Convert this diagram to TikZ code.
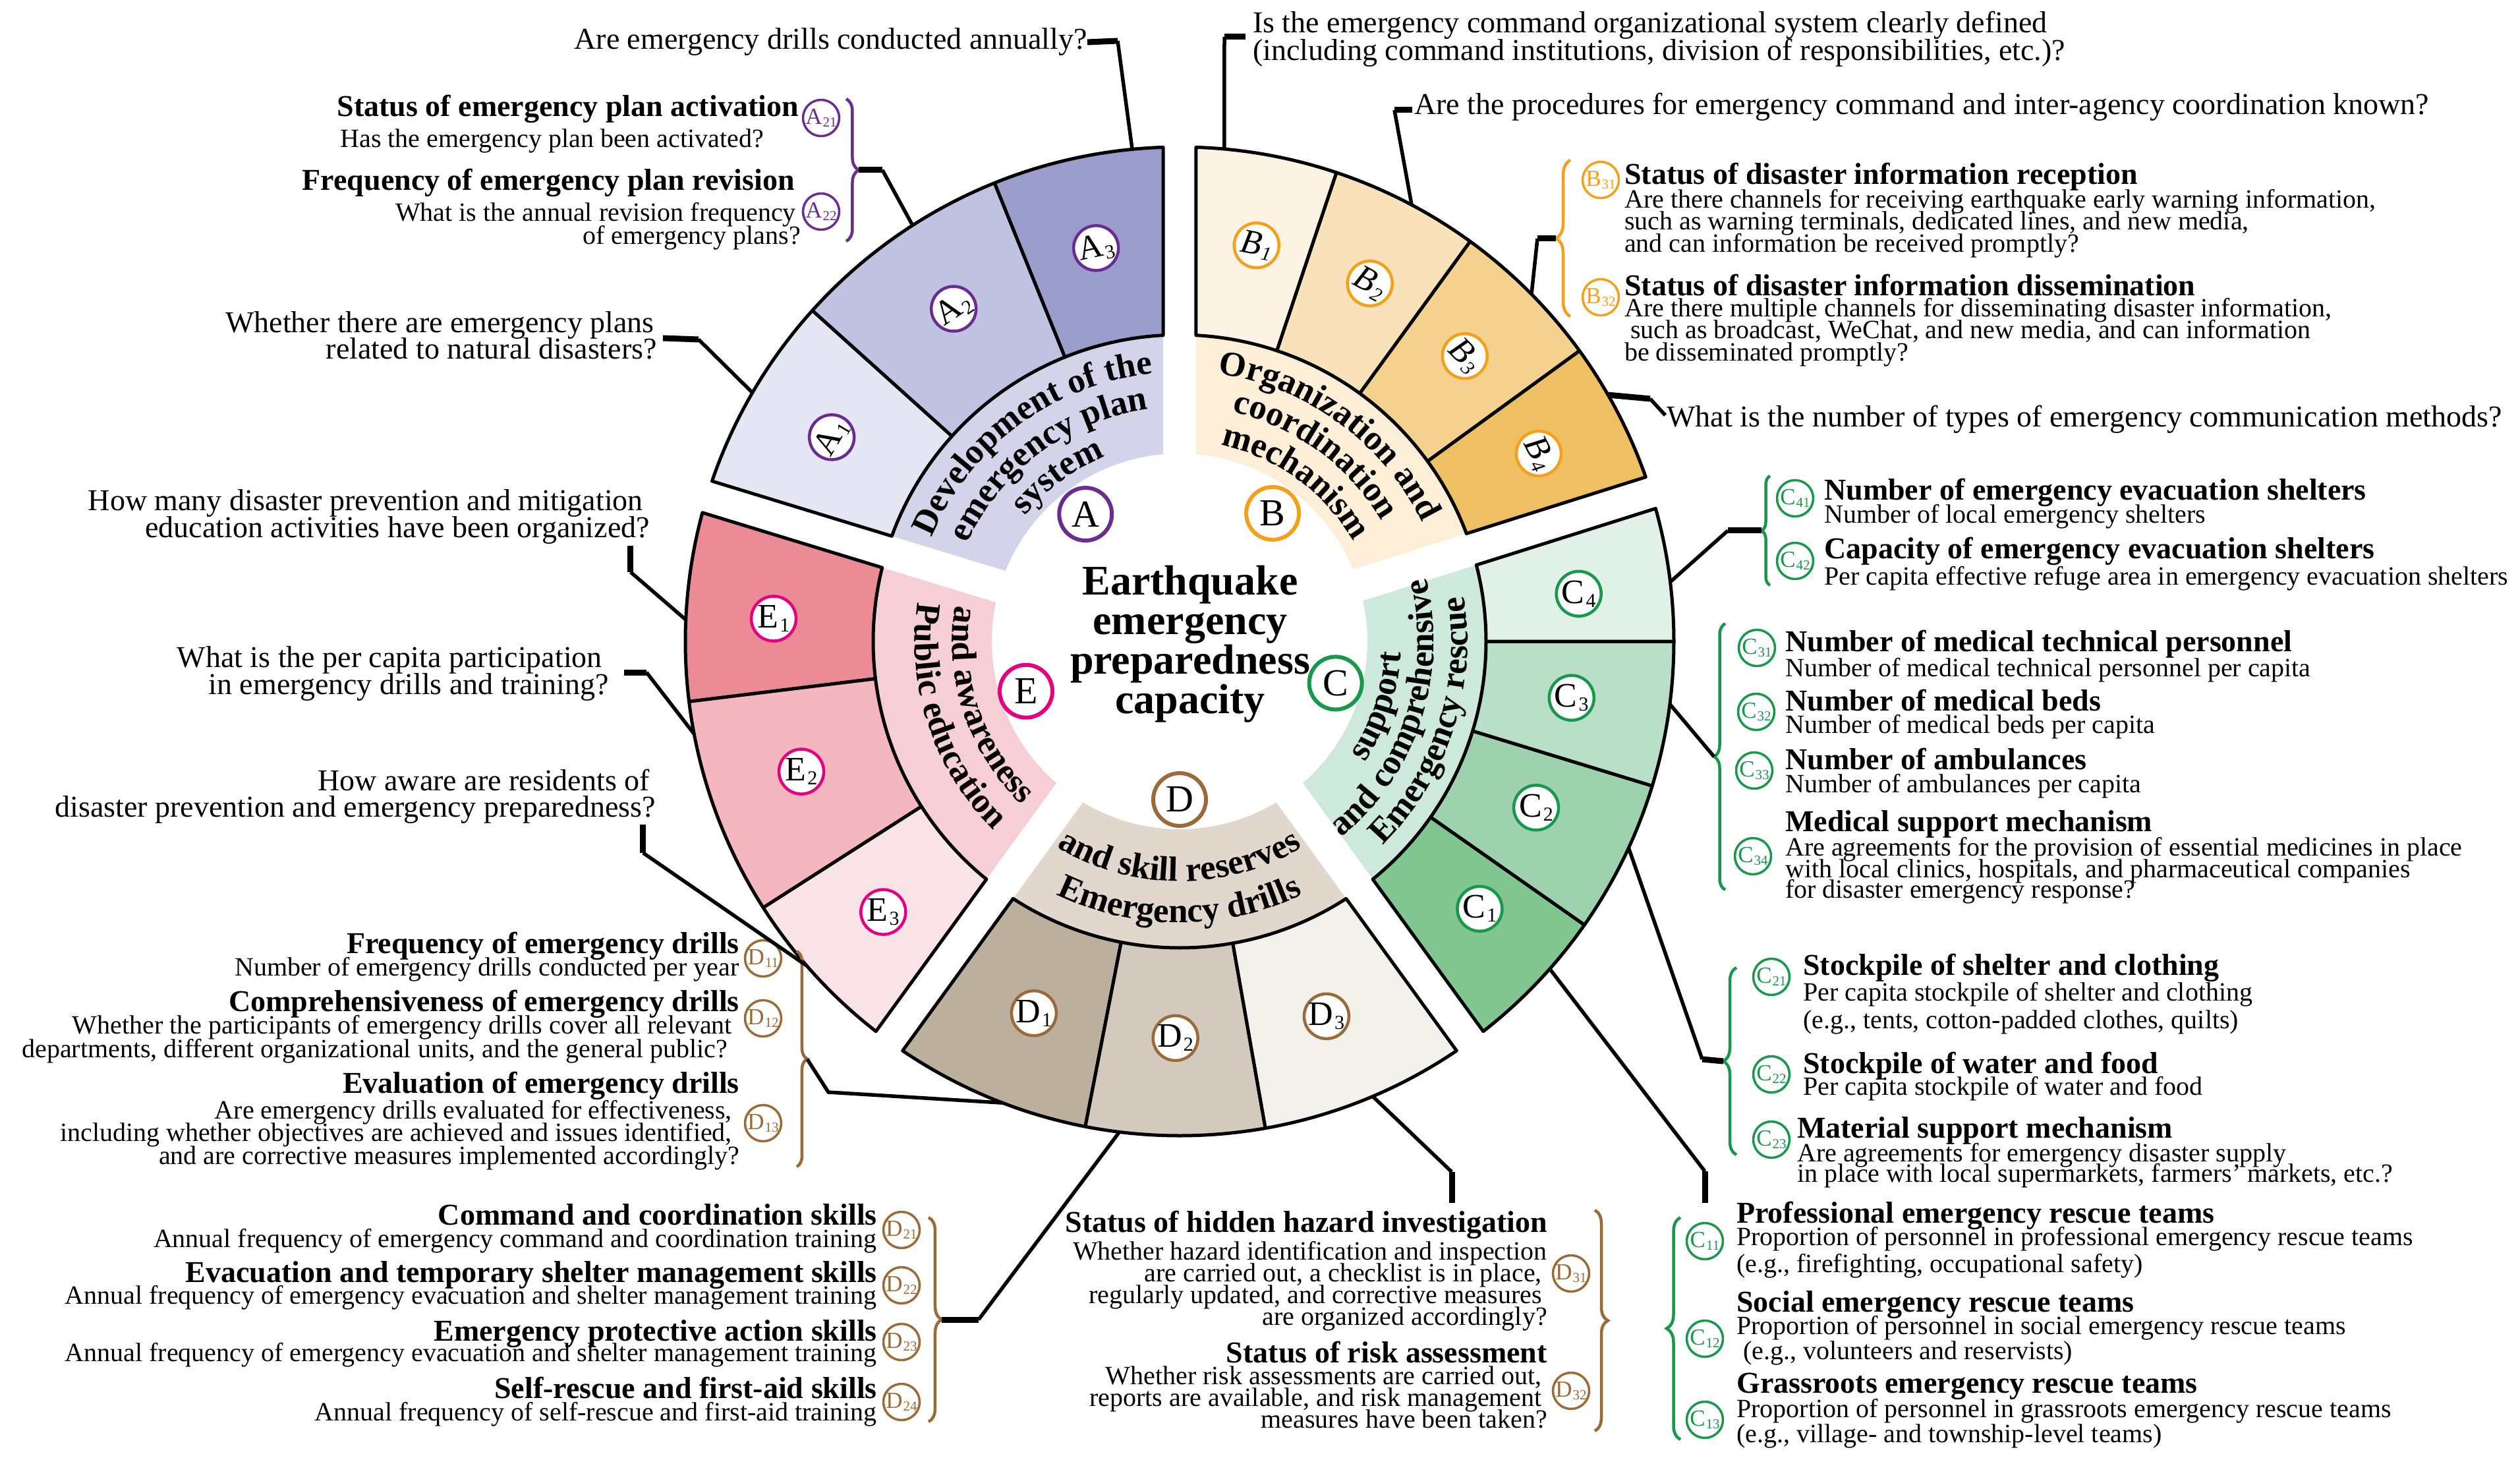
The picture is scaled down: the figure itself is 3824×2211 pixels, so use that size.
\documentclass[tikz,border=0pt]{standalone}
\usepackage{fontspec}
\setmainfont{Liberation Serif}
\usetikzlibrary{decorations.text,decorations.pathreplacing}
\definecolor{bA}{HTML}{D3D4EA}\definecolor{a1}{HTML}{E5E6F4}\definecolor{a2}{HTML}{C0C2E2}\definecolor{a3}{HTML}{9A9DCC}\definecolor{cA}{HTML}{6A2C91}
\definecolor{bB}{HTML}{FDEFD7}\definecolor{b1}{HTML}{FDF3E4}\definecolor{b2}{HTML}{F9E2B9}\definecolor{b3}{HTML}{F5D18F}\definecolor{b4}{HTML}{EFBF63}\definecolor{cB}{HTML}{F4A01A}
\definecolor{bC}{HTML}{CDE9DB}\definecolor{c1}{HTML}{81C690}\definecolor{c2}{HTML}{9ED1AD}\definecolor{c3}{HTML}{BADFC9}\definecolor{c4}{HTML}{E2F1E7}\definecolor{cC}{HTML}{18984A}
\definecolor{bD}{HTML}{E1D7CC}\definecolor{d1}{HTML}{BCAF9D}\definecolor{d2}{HTML}{D3C9BC}\definecolor{d3}{HTML}{F3F1EB}\definecolor{cD}{HTML}{9A6A38}
\definecolor{bE}{HTML}{F5CFD5}\definecolor{e1}{HTML}{EB8B96}\definecolor{e2}{HTML}{F4B6BF}\definecolor{e3}{HTML}{FAE3E6}\definecolor{cE}{HTML}{E4007F}
\newcommand\bandfont{\fontsize{53}{53}\selectfont\bfseries}
\newcommand\sbs[2]{#1\kern2pt\raisebox{-6pt}{\fontsize{30}{30}\selectfont #2}}
\newcommand\gsb[2]{#1\kern1pt\raisebox{-4pt}{\fontsize{21}{21}\selectfont #2}}
\newcounter{tl}
\newcommand\lineT[4]{\stepcounter{tl}\node[#1] (t\arabic{tl}) at (#2,#3) {#4};}
\newcommand\band[5]{\fill[#1] (#2:285) -- (#3:465) arc[start angle=#3, end angle=#5, radius=465] -- (#4:285) arc[start angle=#4, end angle=#2, radius=285] -- cycle;}
\newcommand\seg[5]{\filldraw[fill=#1, draw=black, line width=5pt, line join=round] (#2:465) -- (#3:750) arc[start angle=#3, end angle=#5, radius=750] -- (#4:465) arc[start angle=#4, end angle=#2, radius=465] -- cycle;}
\newcommand\arctext[5]{\path[decorate, decoration={text along path, text align=center, text={|\bandfont|#5}}] (#1:#3) arc[start angle=#1, end angle=#2, radius=#3];}
\tikzset{
 qe/.style={anchor=base east, inner sep=0pt, font=\fontsize{46}{50}\selectfont},
 qw/.style={anchor=base west, inner sep=0pt, font=\fontsize{46}{50}\selectfont},
 be/.style={anchor=base east, inner sep=0pt, font=\fontsize{46}{50}\selectfont\bfseries},
 bw/.style={anchor=base west, inner sep=0pt, font=\fontsize{46}{50}\selectfont\bfseries},
 de/.style={anchor=base east, inner sep=0pt, font=\fontsize{40}{44}\selectfont},
 dw/.style={anchor=base west, inner sep=0pt, font=\fontsize{40}{44}\selectfont},
 leader/.style={draw=black, line width=5.5pt, line join=miter},
 stub/.style={draw=black, line width=9pt},
 gc/.style={circle, line width=3.5pt, fill=white, minimum size=55pt, inner sep=0pt, font=\fontsize{35}{35}\selectfont},
 sc/.style={circle, line width=4.5pt, fill=white, minimum size=68pt, inner sep=0pt, font=\fontsize{52}{52}\selectfont},
 mc/.style={circle, line width=6pt, fill=white, minimum size=80pt, inner sep=0pt, font=\fontsize{58}{58}\selectfont},
 bracestyle/.style={decorate, line width=4.5pt},
}
\begin{document}
\begin{tikzpicture}[x=1pt,y=1pt]
\useasboundingbox (-1790,-1238) rectangle (2034,973);
\fill[white] (-1790,-1238) rectangle (2034,973);
% ---------- wheel ----------
\band{bA}{95.03}{93.08}{157.97}{159.92}
\seg{a3}{93.08}{91.91}{112}{112}
\seg{a2}{112}{112}{138}{138}
\seg{a1}{138}{138}{159.92}{161.09}
\band{bB}{22.53}{20.58}{84.97}{86.92}
\seg{b4}{20.58}{19.41}{36}{36}
\seg{b3}{36}{36}{54}{54}
\seg{b2}{54}{54}{71.5}{71.5}
\seg{b1}{71.5}{71.5}{86.92}{88.09}
\band{bC}{-48.97}{-50.92}{12.47}{14.42}
\seg{c1}{-50.92}{-52.09}{-35}{-35}
\seg{c2}{-35}{-35}{-17}{-17}
\seg{c3}{-17}{-17}{0}{0}
\seg{c4}{0}{0}{14.42}{15.59}
\band{bD}{-120.97}{-122.92}{-59.03}{-57.08}
\seg{d1}{-122.92}{-124.09}{-101}{-101}
\seg{d2}{-101}{-101}{-80}{-80}
\seg{d3}{-80}{-80}{-57.08}{-55.91}
\band{bE}{168.03}{166.08}{228.97}{230.92}
\seg{e1}{166.08}{164.91}{187}{187}
\seg{e2}{187}{187}{212.6}{212.6}
\seg{e3}{212.6}{212.6}{230.92}{232.09}
% band texts
\arctext{176.5}{76.5}{408}{}{Development of the}
\arctext{176.5}{76.5}{355}{}{emergency plan}
\arctext{176.5}{76.5}{302}{}{system}
\arctext{104}{4}{410}{}{Organization and}
\arctext{104}{4}{357}{}{coordination}
\arctext{104}{4}{304}{}{mechanism}
\arctext{-68}{32}{336}{}{support}
\arctext{-68}{32}{386}{}{and comprehensive}
\arctext{-68}{32}{437}{}{Emergency rescue}
\arctext{-140}{-40}{364}{}{and skill reserves}
\arctext{-140}{-40}{427}{}{Emergency drills}
\arctext{148.5}{248.5}{345}{}{and awareness}
\arctext{148.5}{248.5}{402}{}{Public education}
% centre
\node[font=\fontsize{64}{60}\selectfont\bfseries, align=center] (ctr) at (16,-4) {Earthquake\\emergency\\preparedness\\capacity};
\node[mc, draw=cA] (LA) at (126.5:240) {A};
\node[mc, draw=cB] (LB) at (54:240) {B};
\node[mc, draw=cC] (LC) at (-15:245) {C};
\node[mc, draw=cD] (LD) at (-90:240) {D};
\node[mc, draw=cE] (LE) at (198:245) {E};
% sub labels
\node[sc, draw=cA, rotate=59.6] (A1) at (149.6:612) {\sbs{A}{1}};
\node[sc, draw=cA, rotate=34.2] (A2) at (124.2:610) {\sbs{A}{2}};
\node[sc, draw=cA, rotate=12] (A3) at (102:610) {\sbs{A}{3}};
\node[sc, draw=cB, rotate=-11, font=\fontsize{52}{52}\selectfont\itshape] (B1) at (79:612) {\sbs{B}{1}};
\node[sc, draw=cB, rotate=-28, font=\fontsize{52}{52}\selectfont\itshape] (B2) at (62:615) {\sbs{B}{2}};
\node[sc, draw=cB, rotate=-45, font=\fontsize{52}{52}\selectfont\itshape] (B3) at (45:612) {\sbs{B}{3}};
\node[sc, draw=cB, rotate=-62.4, font=\fontsize{52}{52}\selectfont\itshape] (B4) at (27.6:615) {\sbs{B}{4}};
\node[sc, draw=cC] (C4) at (6.8:610) {\sbs{C}{4}};
\node[sc, draw=cC] (C3) at (-8.2:601) {\sbs{C}{3}};
\node[sc, draw=cC] (C2) at (-25:597) {\sbs{C}{2}};
\node[sc, draw=cC] (C1) at (-41.7:610) {\sbs{C}{1}};
\node[sc, draw=cD] (D1) at (-111.4:606) {\sbs{D}{1}};
\node[sc, draw=cD] (D2) at (-90.6:602) {\sbs{D}{2}};
\node[sc, draw=cD] (D3) at (-68.6:611) {\sbs{D}{3}};
\node[sc, draw=cE] (E1) at (176.8:617) {\sbs{E}{1}};
\node[sc, draw=cE] (E2) at (199:607) {\sbs{E}{2}};
\node[sc, draw=cE] (E3) at (222.4:609) {\sbs{E}{3}};
% arc anchor points
\coordinate (pA3) at (95.5:750); \coordinate (pA2) at (122.7:750); \coordinate (pA1) at (149.8:750);
\coordinate (pB1) at (84.8:750); \coordinate (pB2) at (62:750); \coordinate (pB3) at (44.6:750); \coordinate (pB4) at (29.9:750);
\coordinate (pC4) at (6.9:750); \coordinate (pC3) at (-7.3:750); \coordinate (pC2) at (-24.7:750); \coordinate (pC1) at (-41.5:750);
\coordinate (pD3) at (-67:750); \coordinate (pD2) at (-97:750); \coordinate (pD1) at (-111:750);
\coordinate (pE1) at (177.5:750); \coordinate (pE2) at (190.8:750); \coordinate (pE3) at (221:750);
% braces
\draw[bracestyle, draw=cA, decoration={brace, amplitude=19pt}] (-506,823) -- (-506,607);
\draw[bracestyle, draw=cB, decoration={brace, amplitude=22pt}] (593,493) -- (593,730);
\draw[bracestyle, draw=cC, decoration={brace, amplitude=13pt}] (896,85) -- (896,251);
\draw[bracestyle, draw=cC, decoration={brace, amplitude=17pt}] (828,-377) -- (828,27);
\draw[bracestyle, draw=cC, decoration={brace, amplitude=20pt}] (845,-779) -- (845,-495);
\draw[bracestyle, draw=cC, decoration={brace, amplitude=21pt}] (760,-1211) -- (760,-874);
\draw[bracestyle, draw=cD, decoration={brace, amplitude=16pt}] (-581,-470) -- (-581,-797);
\draw[bracestyle, draw=cD, decoration={brace, amplitude=20pt}] (-381,-874) -- (-381,-1184);
\draw[bracestyle, draw=cD, decoration={brace, amplitude=20pt}] (630,-863) -- (630,-1198);
% ---------- texts in image coordinates ----------
\begin{scope}[shift={(-1790,973)}, yscale=-1]
\coordinate (tipA2) at (1303,258); \coordinate (tipB3) at (2361,362); \coordinate (tipC4) at (2673,805);
\coordinate (tipC3) at (2601,1148); \coordinate (tipC2) at (2615,1610); \coordinate (tipD1) at (1225,1607);
\coordinate (tipD2) at (1429,2002);
% A
\lineT{qe}{1650}{75}{Are emergency drills conducted annually?}
\lineT{be}{1212}{177}{Status of emergency plan activation}
\lineT{de}{1159}{224}{Has the emergency plan been activated?}
\lineT{be}{1206}{289}{Frequency of emergency plan revision}
\lineT{de}{1208}{336}{What is the annual revision frequency}
\lineT{de}{1215}{371}{of emergency plans?}
\node[gc, draw=cA, text=cA] (A21) at (1246,179) {\gsb{A}{21}};
\node[gc, draw=cA, text=cA] (A22) at (1246,321) {\gsb{A}{22}};
\lineT{qe}{993}{505}{Whether there are emergency plans}
\lineT{qe}{997}{545}{related to natural disasters?}
% B
\lineT{qw}{1901}{50}{Is the emergency command organizational system clearly defined}
\lineT{qw}{1901}{92}{(including command institutions, division of responsibilities, etc.)?}
\lineT{qw}{2146}{174}{Are the procedures for emergency command and inter-agency coordination known?}
\lineT{bw}{2465}{280}{Status of disaster information reception}
\lineT{dw}{2465}{316}{Are there channels for receiving earthquake early warning information,}
\lineT{dw}{2465}{349}{such as warning terminals, dedicated lines, and new media,}
\lineT{dw}{2465}{383}{and can information be received promptly?}
\lineT{bw}{2465}{449}{Status of disaster information dissemination}
\lineT{dw}{2465}{481}{Are there multiple channels for disseminating disaster information,}
\lineT{dw}{2474}{514}{such as broadcast, WeChat, and new media, and can information}
\lineT{dw}{2465}{548}{be disseminated promptly?}
\node[gc, draw=cB, text=cB] (B31) at (2429,273) {\gsb{B}{31}};
\node[gc, draw=cB, text=cB] (B32) at (2429,451) {\gsb{B}{32}};
\lineT{qw}{2529}{648}{What is the number of types of emergency communication methods?}
% C4
\lineT{bw}{2768}{759}{Number of emergency evacuation shelters}
\lineT{dw}{2768}{794}{Number of local emergency shelters}
\lineT{bw}{2768}{848}{Capacity of emergency evacuation shelters}
\lineT{dw}{2768}{888}{Per capita effective refuge area in emergency evacuation shelters}
\node[gc, draw=cC, text=cC] (C41) at (2724,756) {\gsb{C}{41}};
\node[gc, draw=cC, text=cC] (C42) at (2724,851) {\gsb{C}{42}};
% C3
\lineT{bw}{2709}{988}{Number of medical technical personnel}
\lineT{dw}{2709}{1026}{Number of medical technical personnel per capita}
\lineT{bw}{2709}{1078}{Number of medical beds}
\lineT{dw}{2709}{1112}{Number of medical beds per capita}
\lineT{bw}{2709}{1167}{Number of ambulances}
\lineT{dw}{2709}{1202}{Number of ambulances per capita}
\lineT{bw}{2709}{1261}{Medical support mechanism}
\lineT{dw}{2709}{1298}{Are agreements for the provision of essential medicines in place}
\lineT{dw}{2709}{1331}{with local clinics, hospitals, and pharmaceutical companies}
\lineT{dw}{2709}{1362}{for disaster emergency response?}
\node[gc, draw=cC, text=cC] (C31) at (2666,983) {\gsb{C}{31}};
\node[gc, draw=cC, text=cC] (C32) at (2665,1080) {\gsb{C}{32}};
\node[gc, draw=cC, text=cC] (C33) at (2662,1169) {\gsb{C}{33}};
\node[gc, draw=cC, text=cC] (C34) at (2660,1299) {\gsb{C}{34}};
% C2
\lineT{bw}{2736}{1479}{Stockpile of shelter and clothing}
\lineT{dw}{2736}{1518}{Per capita stockpile of shelter and clothing}
\lineT{dw}{2736}{1560}{(e.g., tents, cotton-padded clothes, quilts)}
\lineT{bw}{2736}{1628}{Stockpile of water and food}
\lineT{dw}{2736}{1661}{Per capita stockpile of water and food}
\lineT{bw}{2727}{1726}{Material support mechanism}
\lineT{dw}{2727}{1762}{Are agreements for emergency disaster supply}
\lineT{dw}{2727}{1793}{in place with local supermarkets, farmers’ markets, etc.?}
\node[gc, draw=cC, text=cC] (C21) at (2688,1482) {\gsb{C}{21}};
\node[gc, draw=cC, text=cC] (C22) at (2688,1630) {\gsb{C}{22}};
\node[gc, draw=cC, text=cC] (C23) at (2688,1729) {\gsb{C}{23}};
% C1
\lineT{bw}{2635}{1855}{Professional emergency rescue teams}
\lineT{dw}{2635}{1889}{Proportion of personnel in professional emergency rescue teams}
\lineT{dw}{2635}{1930}{(e.g., firefighting, occupational safety)}
\lineT{bw}{2635}{1990}{Social emergency rescue teams}
\lineT{dw}{2635}{2024}{Proportion of personnel in social emergency rescue teams}
\lineT{dw}{2645}{2062}{(e.g., volunteers and reservists)}
\lineT{bw}{2635}{2113}{Grassroots emergency rescue teams}
\lineT{dw}{2635}{2150}{Proportion of personnel in grassroots emergency rescue teams}
\lineT{dw}{2635}{2188}{(e.g., village- and township-level teams)}
\node[gc, draw=cC, text=cC] (C11) at (2587,1883) {\gsb{C}{11}};
\node[gc, draw=cC, text=cC] (C12) at (2587,2031) {\gsb{C}{12}};
\node[gc, draw=cC, text=cC] (C13) at (2587,2154) {\gsb{C}{13}};
% D3
\lineT{be}{2348}{1869}{Status of hidden hazard investigation}
\lineT{de}{2348}{1911}{Whether hazard identification and inspection}
\lineT{de}{2340}{1944}{are carried out, a checklist is in place,}
\lineT{de}{2340}{1977}{regularly updated, and corrective measures}
\lineT{de}{2348}{2010}{are organized accordingly?}
\lineT{be}{2348}{2067}{Status of risk assessment}
\lineT{de}{2340}{2100}{Whether risk assessments are carried out,}
\lineT{de}{2340}{2133}{reports are available, and risk management}
\lineT{de}{2348}{2166}{measures have been taken?}
\node[gc, draw=cD, text=cD] (D31) at (2384,1932) {\gsb{D}{31}};
\node[gc, draw=cD, text=cD] (D32) at (2384,2110) {\gsb{D}{32}};
% D2
\lineT{be}{1331}{1858}{Command and coordination skills}
\lineT{de}{1331}{1892}{Annual frequency of emergency command and coordination training}
\lineT{be}{1331}{1945}{Evacuation and temporary shelter management skills}
\lineT{de}{1331}{1978}{Annual frequency of emergency evacuation and shelter management training}
\lineT{be}{1331}{2034}{Emergency protective action skills}
\lineT{de}{1331}{2065}{Annual frequency of emergency evacuation and shelter management training}
\lineT{be}{1331}{2121}{Self-rescue and first-aid skills}
\lineT{de}{1331}{2155}{Annual frequency of self-rescue and first-aid training}
\node[gc, draw=cD, text=cD] (D21) at (1368,1866) {\gsb{D}{21}};
\node[gc, draw=cD, text=cD] (D22) at (1368,1950) {\gsb{D}{22}};
\node[gc, draw=cD, text=cD] (D23) at (1368,2036) {\gsb{D}{23}};
\node[gc, draw=cD, text=cD] (D24) at (1368,2127) {\gsb{D}{24}};
% D1
\lineT{be}{1122}{1446}{Frequency of emergency drills}
\lineT{de}{1122}{1480}{Number of emergency drills conducted per year}
\lineT{be}{1122}{1534}{Comprehensiveness of emergency drills}
\lineT{de}{1111}{1568}{Whether the participants of emergency drills cover all relevant}
\lineT{de}{1104}{1604}{departments, different organizational units, and the general public?}
\lineT{be}{1122}{1658}{Evaluation of emergency drills}
\lineT{de}{1111}{1697}{Are emergency drills evaluated for effectiveness,}
\lineT{de}{1111}{1731}{including whether objectives are achieved and issues identified,}
\lineT{de}{1122}{1766}{and are corrective measures implemented accordingly?}
\node[gc, draw=cD, text=cD] (D11) at (1158,1454) {\gsb{D}{11}};
\node[gc, draw=cD, text=cD] (D12) at (1158,1545) {\gsb{D}{12}};
\node[gc, draw=cD, text=cD] (D13) at (1158,1704) {\gsb{D}{13}};
% E
\lineT{qe}{976}{775}{How many disaster prevention and mitigation}
\lineT{qe}{986}{816}{education activities have been organized?}
\lineT{qe}{914}{1012}{What is the per capita participation}
\lineT{qe}{924}{1053}{in emergency drills and training?}
\lineT{qe}{986}{1199}{How aware are residents of}
\lineT{qe}{995}{1239}{disaster prevention and emergency preparedness?}
% leader end points
\coordinate (k1) at (1696,62); \coordinate (k2) at (1339,258); \coordinate (s3) at (1006,513); \coordinate (k3) at (1060,515);
\coordinate (s4) at (1890,56); \coordinate (k4) at (1858,56); \coordinate (s5) at (2143,167); \coordinate (k5) at (2116,167);
\coordinate (k6) at (2333,362); \coordinate (k7) at (2504,605); \coordinate (s7) at (2527,630);
\coordinate (k8) at (2622,805); \coordinate (k10) at (2583,1607);
\coordinate (s11) at (2587,1825); \coordinate (k11) at (2587,1777);
\coordinate (s12) at (2203,1825); \coordinate (k12) at (2203,1778);
\coordinate (k13) at (1485,2002); \coordinate (k14) at (1257,1657);
\coordinate (s15) at (957,828); \coordinate (k15) at (957,868);
\coordinate (s16) at (947,1020); \coordinate (k16) at (981,1020);
\coordinate (s17) at (976,1251); \coordinate (k17) at (976,1294);
% leaders: thick stub + thinner run to the wheel
\draw[stub] (t1.east) -- (k1); \draw[leader] (k1) -- (pA3);
\draw[stub] (tipA2) -- (k2); \draw[leader] (k2) -- (pA2);
\draw[stub] (s3) -- (k3); \draw[leader] (k3) -- (pA1);
\draw[stub] (s4) -- (k4); \draw[leader] (k4) -- (pB1);
\draw[stub] (s5) -- (k5); \draw[leader] (k5) -- (pB2);
\draw[stub] (tipB3) -- (k6); \draw[leader] (k6) -- (pB3);
\draw[stub] (pB4) -- (k7); \draw[leader] (k7) -- (s7);
\draw[stub] (tipC4) -- (k8); \draw[leader] (k8) -- (pC4);
\draw[leader] (tipC3) -- (pC3);
\draw[stub] (tipC2) -- (k10); \draw[leader] (k10) -- (pC2);
\draw[stub] (s11) -- (k11); \draw[leader] (k11) -- (pC1);
\draw[stub] (s12) -- (k12); \draw[leader] (k12) -- (pD3);
\draw[stub] (tipD2) -- (k13); \draw[leader] (k13) -- (pD2);
\draw[leader] (tipD1) -- (k14) -- (pD1);
\draw[stub] (s15) -- (k15); \draw[leader] (k15) -- (pE1);
\draw[stub] (s16) -- (k16); \draw[leader] (k16) -- (pE2);
\draw[stub] (s17) -- (k17); \draw[leader] (k17) -- (pE3);
\end{scope}
\end{tikzpicture}
\end{document}
